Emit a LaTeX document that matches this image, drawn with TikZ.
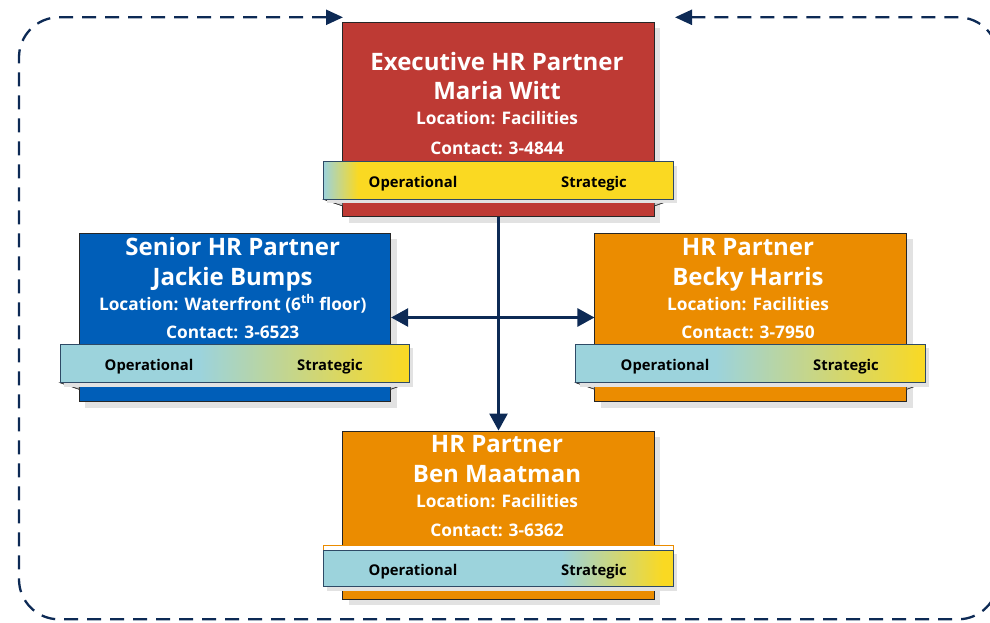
\documentclass[tikz,border=0pt]{standalone}
\usepackage{fontspec}
\setmainfont{Open Sans}
\usetikzlibrary{arrows.meta}
\definecolor{navy}{HTML}{0D2A55}
\definecolor{exred}{HTML}{BE3A34}
\definecolor{srblue}{HTML}{005EB8}
\definecolor{hrorange}{HTML}{EB8C00}
\definecolor{bteal}{HTML}{9CD3DC}
\definecolor{byellow}{HTML}{FAD922}
\definecolor{bandedge}{HTML}{2E4A66}
\definecolor{shadowgray}{HTML}{E2E2E2}
\pgfdeclarehorizontalshading{bandA}{100bp}{color(0bp)=(bteal); color(25bp)=(bteal); color(30bp)=(byellow); color(100bp)=(byellow)}
\pgfdeclarehorizontalshading{bandB}{100bp}{color(0bp)=(bteal); color(25bp)=(bteal); color(45bp)=(bteal); color(75bp)=(byellow); color(100bp)=(byellow)}
\pgfdeclarehorizontalshading{bandC}{100bp}{color(0bp)=(bteal); color(25bp)=(bteal); color(59bp)=(bteal); color(73.5bp)=(byellow); color(100bp)=(byellow)}
\tikzset{
  box/.style={draw=black!85, line width=0.9pt, inner sep=0pt, minimum width=311.6pt},
  band/.style={draw=bandedge, line width=0.9pt, inner sep=0pt, minimum width=350pt, minimum height=37.6pt},
  fold/.style={fill=black!20, draw=black!80, line width=0.5pt},
  title/.style={text=white, font=\bfseries\fontsize{24}{28}\selectfont, inner sep=0pt, anchor=base},
  info/.style={text=white, font=\bfseries\fontsize{17.3}{20}\selectfont, inner sep=0pt, anchor=base},
  bandtext/.style={text=black, font=\bfseries\fontsize{14.8}{17}\selectfont, inner sep=0pt, anchor=base},
  conn/.style={navy, line width=2.6pt, -{Triangle[length=17pt,width=18pt]}},
  frame/.style={navy, line width=2.3pt, dash pattern=on 14pt off 9pt, rounded corners=40pt}
}
\begin{document}
\begin{tikzpicture}[x=1pt,y=-1pt]
\useasboundingbox (0,0) rectangle (990,623);
% frame
\coordinate (fs) at (675,17.3);
\coordinate (fe) at (343,17.3);
\draw[frame, {Triangle[length=17pt,width=15pt]}-{Triangle[length=17pt,width=15pt]}] (fs) -- (998,17.3) -- (998,619.3) -- (19,619.3) -- (19,17.3) -- (fe);
% shadows
\fill[shadowgray] (348.7,28) rectangle (660.3,222.7);
\fill[shadowgray] (85,239.3) rectangle (396.7,407.7);
\fill[shadowgray] (600.7,239.3) rectangle (912.7,407.7);
\fill[shadowgray] (348.7,437) rectangle (660.3,605.3);
% boxes
\node[box, fill=exred, minimum height=194.7pt] (exec) at (498.5,119.35) {};
\node[box, fill=srblue, minimum height=168.4pt] (senior) at (234.85,317.5) {};
\node[box, fill=hrorange, minimum height=168.4pt] (becky) at (750.7,317.5) {};
\node[box, fill=hrorange, minimum height=168.3pt] (ben) at (498.5,515.15) {};
% folds
\fill[fold] (323.3,199.3) -- (342.7,199.3) -- (342.7,206) -- cycle;
\fill[fold] (673.3,199.3) -- (654.3,199.3) -- (654.3,206) -- cycle;
\fill[fold] (60,382.7) -- (79,382.7) -- (79,389.3) -- cycle;
\fill[fold] (409.3,382.7) -- (390.7,382.7) -- (390.7,389.3) -- cycle;
\fill[fold] (575.7,382.7) -- (594.7,382.7) -- (594.7,389.3) -- cycle;
\fill[fold] (925.3,382.7) -- (906.7,382.7) -- (906.7,389.3) -- cycle;
\draw[black!80, line width=0.5pt] (323.3,199.3) -- (342.7,206) (673.3,199.3) -- (654.3,206) (60,382.7) -- (79,389.3) (409.3,382.7) -- (390.7,389.3) (575.7,382.7) -- (594.7,389.3) (925.3,382.7) -- (906.7,389.3);
% bands
\fill[shadowgray] (327.3,165.7) rectangle (677.3,203.3);
\node[band, shading=bandA] (execband) at (498.3,180.5) {};
\fill[shadowgray] (64,348.3) rectangle (413.3,386.7);
\node[band, shading=bandB, minimum width=349.3pt, minimum height=38.4pt] (seniorband) at (234.65,363.5) {};
\fill[shadowgray] (579.7,348.3) rectangle (929.3,386.7);
\node[band, shading=bandB, minimum width=349.6pt, minimum height=38.4pt] (beckyband) at (750.5,363.5) {};
\draw[hrorange, fill=white, line width=0.7pt] (323.3,545) rectangle (673.3,556);
\fill[shadowgray] (327.3,554) rectangle (677.3,590.7);
\node[band, shading=bandC, minimum height=36.7pt] (benband) at (498.3,568.35) {};
% texts: exec
\node[title] (t1a) at (497,70.7) {Executive HR Partner};
\node[title] (t1b) at (497,100) {Maria Witt};
\node[info] (t1c) at (497,124.3) {Location: Facilities};
\node[info] (t1d) at (497,154.3) {Contact: 3-4844};
\node[bandtext] (b1a) at (413,187.3) {Operational};
\node[bandtext] (b1b) at (594,187.3) {Strategic};
% senior
\node[title] (t2a) at (232.7,255) {Senior HR Partner};
\node[title] (t2b) at (232.7,285) {Jackie Bumps};
\node[info] (t2c) at (232.7,310) {Location: Waterfront (6\textsuperscript{th} floor)};
\node[info] (t2d) at (232.7,338.3) {Contact: 3-6523};
\node[bandtext] (b2a) at (149,370) {Operational};
\node[bandtext] (b2b) at (330,370) {Strategic};
% becky
\node[title] (t3a) at (748,255) {HR Partner};
\node[title] (t3b) at (748,285) {Becky Harris};
\node[info] (t3c) at (748,310) {Location: Facilities};
\node[info] (t3d) at (748,338.3) {Contact: 3-7950};
\node[bandtext] (b3a) at (665,370) {Operational};
\node[bandtext] (b3b) at (846,370) {Strategic};
% ben
\node[title] (t4a) at (497,452.7) {HR Partner};
\node[title] (t4b) at (497,482.7) {Ben Maatman};
\node[info] (t4c) at (497,507.7) {Location: Facilities};
\node[info] (t4d) at (497,536.7) {Contact: 3-6362};
\node[bandtext] (b4a) at (413,575) {Operational};
\node[bandtext] (b4b) at (594,575) {Strategic};
% connectors
\draw[conn] (exec.south) -- (ben.north);
\draw[conn, {Triangle[length=17pt,width=18pt]}-{Triangle[length=17pt,width=18pt]}] (senior.east) -- (becky.west);
\end{tikzpicture}
\end{document}
